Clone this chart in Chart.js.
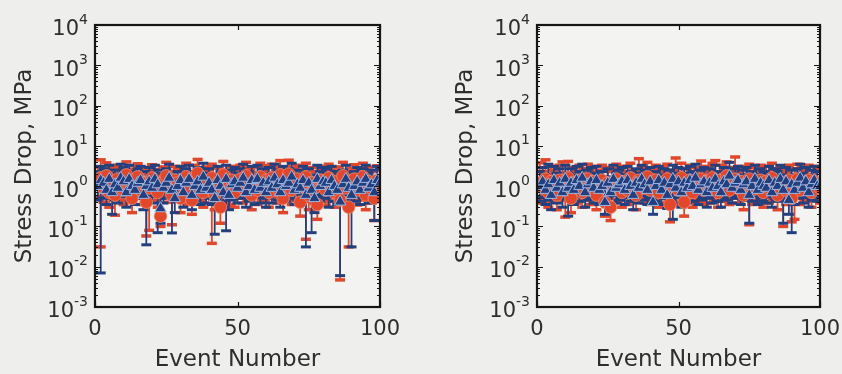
<!DOCTYPE html>
<html><head><meta charset="utf-8">
<script src="https://cdn.jsdelivr.net/npm/chart.js@4.4.1/dist/chart.umd.min.js"></script>
<style>
html,body{margin:0;padding:0;background:#eeeeec;}
#wrap{position:relative;width:842px;height:374px;overflow:hidden;}
canvas{position:absolute;top:0;}
</style></head><body>
<div id="wrap"><canvas id="c1" width="421" height="374" style="left:0"></canvas><canvas id="c2" width="421" height="374" style="left:421px"></canvas></div>
<script>
const events = [1,2,3,4,5,6,7,8,9,10,11,12,13,14,15,16,17,18,19,20,21,22,23,24,25,26,27,28,29,30,31,32,33,34,35,36,37,38,39,40,41,42,43,44,45,46,47,48,49,50,51,52,53,54,55,56,57,58,59,60,61,62,63,64,65,66,67,68,69,70,71,72,73,74,75,76,77,78,79,80,81,82,83,84,85,86,87,88,89,90,91,92,93,94,95,96,97,98,99,100];
const yTicks = [1e-3,1e-2,1e-1,1e0,1e1,1e2,1e3,1e4];
const xTicks = [0,50,100];

// Left panel
const leftRed = [1.3,1.6,0.9,1.8,0.7,1.2,0.6,1.5,1.1,0.8, 1.9,1.0,0.5,1.4,1.7,0.8,1.2,0.4,0.9,1.6, 1.1,0.7,0.18,1.3,1.8,0.9,0.6,1.4,1.2,0.5, 1.0,1.7,0.8,0.45,1.5,2.1,1.1,0.7,1.3,0.9, 1.6,0.6,1.2,0.3,1.9,1.0,0.8,1.4,0.7,1.2, 1.5,0.9,1.8,1.1,0.6,1.3,0.8,1.7,1.0,1.4, 0.7,1.6,1.2,0.9,1.9,0.5,1.3,2.0,0.8,1.1, 1.5,0.4,1.0,1.7,0.6,1.2,0.9,0.35,1.4,1.1, 0.8,1.6,1.0,0.7,1.3,0.45,1.8,0.9,0.3,1.2, 1.5,0.8,1.1,1.7,0.6,1.3,0.9,0.5,1.4,1.0];
const leftRedHi = [3.0,4.5,2.2,3.8,1.9,2.9,1.8,3.3,2.7,2.1, 4.0,2.6,1.5,3.2,3.6,2.0,2.9,1.3,2.4,3.4, 2.6,1.9,0.5,3.0,3.9,2.3,1.7,3.1,2.8,1.5, 2.5,3.7,2.1,1.4,3.3,4.6,2.7,1.9,3.0,2.3, 3.5,1.7,2.8,1.0,4.1,2.5,2.1,3.1,1.9,2.8, 3.3,2.3,3.9,2.7,1.7,3.0,2.1,3.7,2.5,3.2, 1.9,3.5,2.9,2.3,4.3,1.5,3.0,4.4,2.1,2.7, 3.3,1.2,2.5,3.7,1.7,2.9,2.3,1.1,3.1,2.7, 2.1,3.5,2.5,1.9,3.0,1.4,3.9,2.3,1.0,2.8, 3.4,2.1,2.7,3.7,1.7,3.0,2.3,1.5,3.2,2.5];
const leftRedLo = [0.55,0.031,0.4,0.7,0.3,0.5,0.19,0.6,0.45,0.35, 0.8,0.42,0.22,0.6,0.7,0.35,0.5,0.058,0.08,0.65, 0.45,0.3,0.1,0.55,0.75,0.4,0.11,0.6,0.5,0.22, 0.42,0.7,0.35,0.2,0.62,0.85,0.45,0.3,0.55,0.38, 0.038,0.26,0.5,0.12,0.8,0.42,0.35,0.58,0.3,0.5, 0.62,0.38,0.75,0.45,0.26,0.55,0.35,0.7,0.42,0.58, 0.3,0.68,0.5,0.38,0.8,0.22,0.55,0.82,0.35,0.45, 0.62,0.18,0.42,0.048,0.26,0.5,0.38,0.15,0.58,0.45, 0.34,0.66,0.42,0.3,0.55,0.0047,0.75,0.38,0.031,0.5, 0.62,0.34,0.45,0.7,0.26,0.55,0.38,0.14,0.58,0.42];
const leftBlue = [1.0,1.4,1.2,0.8,1.5,0.7,1.1,0.9,1.6,1.3, 0.7,1.5,1.0,0.8,1.2,1.4,0.6,1.0,1.3,0.9, 1.5,1.1,0.28,0.9,1.2,1.6,0.8,0.5,1.0,1.4, 0.7,1.2,1.5,0.6,1.0,1.3,0.8,1.7,0.9,1.2, 0.8,0.5,1.4,1.0,0.7,1.5,0.6,1.1,1.3,0.9, 1.2,1.6,0.7,1.0,1.4,0.8,1.5,0.9,1.2,0.7, 1.3,0.9,1.6,1.1,0.7,1.4,1.0,1.2,1.7,0.8, 1.1,0.9,1.4,0.6,1.2,0.8,0.5,1.5,1.0,1.3, 1.2,0.7,1.4,1.0,0.8,0.41,1.1,1.5,0.9,0.6, 1.0,1.3,0.8,1.2,1.5,0.9,1.1,0.7,1.4,1.2];
const leftBlueHi = [2.3,3.1,2.7,1.9,3.3,1.7,2.5,2.1,3.5,2.9, 1.7,3.3,2.3,1.9,2.7,3.1,1.5,2.3,2.9,2.1, 3.3,2.5,0.8,2.1,2.7,3.5,1.9,1.3,2.3,3.1, 1.7,2.7,3.3,1.5,2.3,2.9,1.9,3.7,2.1,2.7, 1.9,1.3,3.1,2.3,1.7,3.3,1.5,2.5,2.9,2.1, 2.7,3.5,1.7,2.3,3.1,1.9,3.3,2.1,2.7,1.7, 2.9,2.1,3.5,2.5,1.7,3.1,2.3,2.7,3.7,1.9, 2.5,2.1,3.1,1.5,2.7,1.9,1.3,3.3,2.3,2.9, 2.7,1.7,3.1,2.3,1.9,1.1,2.5,3.3,2.1,1.5, 2.3,2.9,1.9,2.7,3.3,2.1,2.5,1.7,3.1,2.7];
const leftBlueLo = [0.45,0.007,0.5,0.35,0.6,0.2,0.45,0.38,0.65,0.55, 0.3,0.6,0.42,0.35,0.5,0.58,0.26,0.035,0.55,0.38, 0.6,0.07,0.12,0.38,0.5,0.65,0.069,0.22,0.42,0.58, 0.3,0.5,0.6,0.26,0.42,0.55,0.35,0.7,0.38,0.5, 0.35,0.064,0.58,0.42,0.3,0.078,0.26,0.45,0.55,0.38, 0.5,0.65,0.3,0.42,0.58,0.35,0.62,0.38,0.5,0.3, 0.55,0.38,0.65,0.45,0.3,0.58,0.42,0.5,0.7,0.35, 0.45,0.38,0.58,0.031,0.5,0.07,0.22,0.62,0.42,0.55, 0.5,0.3,0.58,0.42,0.35,0.006,0.45,0.62,0.38,0.031, 0.42,0.55,0.35,0.5,0.62,0.38,0.45,0.14,0.58,0.5];

// Right panel
const rightRed = [1.2,0.9,1.5,0.7,1.3,1.0,0.6,1.4,1.1,0.8, 1.6,0.5,1.2,0.9,1.4,0.7,1.1,1.5,0.8,1.3, 0.6,1.0,1.4,0.4,1.2,0.3,0.9,1.5,1.1,0.7, 1.3,0.8,1.6,1.0,0.6,1.4,1.2,0.9,1.7,0.8, 1.1,1.4,0.7,1.2,0.9,1.5,0.35,1.0,1.3,0.8, 1.6,0.4,1.1,1.4,0.7,1.2,1.0,1.5,0.8,1.3, 0.9,1.6,1.1,0.7,1.4,1.0,1.8,0.8,1.2,1.5, 0.9,1.3,0.6,1.1,1.5,0.8,1.2,1.0,1.4,0.7, 1.3,0.9,1.6,1.1,0.6,1.2,1.0,0.8,1.4,0.5, 1.1,1.5,0.8,1.2,1.0,1.4,0.7,1.3,1.1,0.9];
const rightRedHi = [3.8,2.3,4.5,2.0,3.1,2.5,1.7,3.3,4.0,2.1, 4.1,1.5,2.9,2.3,3.3,1.9,2.7,3.5,2.1,3.1, 1.7,2.5,3.3,1.3,2.9,1.0,2.3,3.5,2.7,1.9, 3.1,2.1,3.7,2.5,1.7,4.8,2.9,2.3,3.9,2.1, 2.7,3.3,1.9,2.9,2.3,3.5,1.1,2.5,5.0,2.1, 3.7,1.3,2.7,3.3,1.9,2.9,2.5,4.2,2.1,3.1, 2.3,3.7,4.3,1.9,3.3,2.5,4.0,2.1,2.9,5.3, 2.3,3.1,1.7,2.7,3.5,2.1,2.9,2.5,3.3,1.9, 3.1,2.3,3.7,2.7,1.7,2.9,2.5,2.1,3.3,1.5, 2.7,3.5,2.1,2.9,2.5,3.3,1.9,3.1,2.7,2.3];
const rightRedLo = [0.5,0.38,0.6,0.3,0.55,0.42,0.26,0.58,0.45,0.17, 0.62,0.22,0.5,0.38,0.58,0.3,0.45,0.6,0.35,0.52, 0.26,0.42,0.56,0.18,0.5,0.14,0.38,0.6,0.45,0.3, 0.52,0.35,0.62,0.42,0.26,0.56,0.5,0.38,0.65,0.35, 0.45,0.56,0.3,0.5,0.38,0.6,0.13,0.42,0.52,0.35, 0.62,0.18,0.45,0.56,0.3,0.5,0.42,0.6,0.35,0.52, 0.38,0.62,0.45,0.3,0.56,0.42,0.68,0.35,0.5,0.6, 0.38,0.52,0.26,0.45,0.11,0.35,0.5,0.42,0.56,0.3, 0.52,0.38,0.62,0.45,0.26,0.5,0.1,0.35,0.56,0.13, 0.15,0.6,0.35,0.5,0.42,0.56,0.3,0.52,0.45,0.38];
const rightBlue = [1.0,1.3,0.8,1.1,0.6,1.4,0.9,1.2,0.7,1.5, 0.9,1.2,0.8,1.4,1.0,1.6,0.7,1.1,1.3,0.9, 1.4,0.8,1.0,0.4,1.2,0.7,1.5,0.9,1.1,1.3, 0.8,1.4,1.0,0.6,1.2,0.9,1.5,1.1,0.8,1.3, 0.4,1.0,1.4,0.8,1.2,0.6,1.1,1.5,0.9,1.3, 0.7,1.2,0.9,1.4,1.0,1.6,0.8,1.1,1.3,0.7, 1.2,0.9,1.5,1.0,0.7,1.3,1.1,1.8,0.9,1.2, 1.4,0.8,1.1,1.3,0.6,1.0,1.5,0.8,1.2,1.0, 0.9,1.4,0.7,1.2,1.0,1.5,0.8,1.3,0.45,1.1, 0.8,1.2,1.6,0.9,1.3,0.7,1.1,1.4,1.0,1.0];
const rightBlueHi = [2.3,2.9,1.9,3.5,1.5,3.1,2.1,2.7,1.7,3.3, 2.1,2.7,1.9,3.1,2.3,3.5,1.7,2.5,2.9,2.1, 3.1,1.9,2.3,1.1,2.7,1.7,3.3,2.1,2.5,2.9, 1.9,3.1,2.3,1.5,2.7,2.1,3.3,2.5,1.9,2.9, 1.1,2.3,3.1,1.9,2.7,1.5,2.5,3.3,2.1,2.9, 1.7,2.7,2.1,3.1,2.3,3.5,1.9,2.5,2.9,1.7, 2.7,2.1,3.3,2.3,1.7,2.9,2.5,3.9,2.1,2.7, 3.1,1.9,2.5,2.9,1.5,2.3,3.3,1.9,2.7,2.3, 2.1,3.1,1.7,2.7,2.3,3.3,1.9,2.9,1.3,2.5, 1.9,2.7,3.5,2.1,2.9,1.7,2.5,3.1,2.3,2.3];
const rightBlueLo = [0.42,0.52,0.35,0.45,0.26,0.55,0.38,0.5,0.3,0.6, 0.18,0.5,0.35,0.55,0.42,0.6,0.3,0.45,0.52,0.38, 0.55,0.35,0.42,0.2,0.5,0.3,0.58,0.38,0.45,0.52, 0.35,0.55,0.42,0.26,0.5,0.38,0.58,0.45,0.35,0.52, 0.2,0.42,0.55,0.35,0.5,0.28,0.45,0.15,0.38,0.52, 0.3,0.5,0.38,0.55,0.42,0.6,0.35,0.45,0.52,0.3, 0.5,0.38,0.58,0.42,0.3,0.52,0.45,0.65,0.38,0.5, 0.55,0.35,0.45,0.52,0.12,0.42,0.58,0.35,0.5,0.42, 0.38,0.55,0.3,0.5,0.42,0.58,0.12,0.52,0.2,0.07, 0.35,0.5,0.6,0.38,0.52,0.3,0.45,0.55,0.42,0.42];

const RED = '#e2472c', NAVY = '#233f7e', LIGHTBLUE = '#9db6e2', TXT = '#2e2e2e';
const FONT = 'DejaVu Sans';

function errData(lo, hi) {
  const d = [];
  events.forEach((e, i) => { d.push({x: e, y: lo[i]}, {x: e, y: hi[i]}, {x: e, y: null}); });
  return d;
}
function ptData(v) { return events.map((e, i) => ({x: e, y: v[i]})); }

const axisPlugin = {
  id: 'axisPlugin',
  beforeDatasetsDraw(chart) {
    const {ctx, chartArea: a} = chart;
    ctx.save();
    ctx.fillStyle = '#f3f3f1';
    ctx.fillRect(a.left, a.top, a.right - a.left, a.bottom - a.top);
    ctx.restore();
  },
  afterDraw(chart) {
    const {ctx, chartArea: a, scales} = chart;
    const xs = scales.x, ys = scales.y;
    ctx.save();
    ctx.strokeStyle = '#151515';
    ctx.lineWidth = 1.2;
    for (let k = -3; k <= 3; k++) {
      for (let m = 1; m <= 9; m++) {
        const v = m * Math.pow(10, k);
        const py = Math.round(ys.getPixelForValue(v)) + 0.5;
        const len = m === 1 ? 6 : 3;
        ctx.beginPath();
        ctx.moveTo(a.left, py); ctx.lineTo(a.left + len, py);
        ctx.moveTo(a.right, py); ctx.lineTo(a.right - len, py);
        ctx.stroke();
      }
    }
    xTicks.forEach(v => {
      const px = Math.round(xs.getPixelForValue(v)) + 0.5;
      ctx.beginPath();
      ctx.moveTo(px, a.bottom); ctx.lineTo(px, a.bottom - 5);
      ctx.moveTo(px, a.top); ctx.lineTo(px, a.top + 5);
      ctx.stroke();
    });
    ctx.lineWidth = 2.2;
    ctx.strokeRect(a.left, a.top, a.right - a.left, a.bottom - a.top);
    ctx.fillStyle = TXT;
    yTicks.forEach(v => {
      const py = ys.getPixelForValue(v);
      const ex = String(Math.round(Math.log10(v)));
      ctx.font = '14px "' + FONT + '"';
      const we = ctx.measureText(ex).width;
      const right = a.left - 7;
      ctx.textAlign = 'right'; ctx.textBaseline = 'middle';
      ctx.fillText(ex, right, py - 5);
      ctx.font = '21px "' + FONT + '"';
      ctx.fillText('10', right - we, py + 5);
    });
    ctx.font = '21px "' + FONT + '"';
    ctx.textAlign = 'center'; ctx.textBaseline = 'middle';
    xTicks.forEach(v => ctx.fillText(String(v), xs.getPixelForValue(v), a.bottom + 23));
    ctx.restore();
  }
};

function makeChart(id, red, redLo, redHi, blue, blueLo, blueHi, yWidth, titlePad, padRight) {
  return new Chart(document.getElementById(id), {
    type: 'line',
    data: {
      datasets: [
        {data: ptData(blue), showLine: false, pointStyle: 'triangle', pointRadius: 6.6,
         pointBackgroundColor: NAVY, pointBorderColor: LIGHTBLUE, pointBorderWidth: 1, order: 0},
        {data: ptData(red), showLine: false, pointStyle: 'circle', pointRadius: 6.3,
         pointBackgroundColor: RED, pointBorderColor: '#f08a70', pointBorderWidth: 0.8, order: 1},
        {data: errData(blueLo, blueHi), borderColor: NAVY, borderWidth: 1.8, spanGaps: false,
         pointStyle: 'line', pointRadius: 5, pointBorderColor: NAVY, pointBorderWidth: 3, order: 2},
        {data: errData(redLo, redHi), borderColor: RED, borderWidth: 1.8, spanGaps: false,
         pointStyle: 'line', pointRadius: 5, pointBorderColor: RED, pointBorderWidth: 3.5, order: 3}
      ]
    },
    options: {
      responsive: false, animation: false, devicePixelRatio: 1, events: [],
      layout: {padding: {left: 0, right: padRight, top: 25, bottom: 0}},
      plugins: {legend: {display: false}, tooltip: {enabled: false}},
      scales: {
        x: {type: 'linear', min: 0, max: 100,
            grid: {display: false}, border: {display: false}, ticks: {display: false},
            title: {display: true, text: 'Event Number', color: TXT, font: {family: FONT, size: 23}, padding: {top: 0, bottom: 0}},
            afterFit(s) { s.height = 67; }},
        y: {type: 'logarithmic', min: 1e-3, max: 1e4,
            grid: {display: false}, border: {display: false}, ticks: {display: false},
            title: {display: true, text: 'Stress Drop, MPa', color: TXT, font: {family: FONT, size: 23}, padding: {top: titlePad, bottom: 0}},
            afterFit(s) { s.width = yWidth; }}
      }
    },
    plugins: [axisPlugin]
  });
}

makeChart('c1', leftRed, leftRedLo, leftRedHi, leftBlue, leftBlueLo, leftBlueHi, 95, 11, 41);
makeChart('c2', rightRed, rightRedLo, rightRedHi, rightBlue, rightBlueLo, rightBlueHi, 116, 31, 22);
</script>
</body></html>
